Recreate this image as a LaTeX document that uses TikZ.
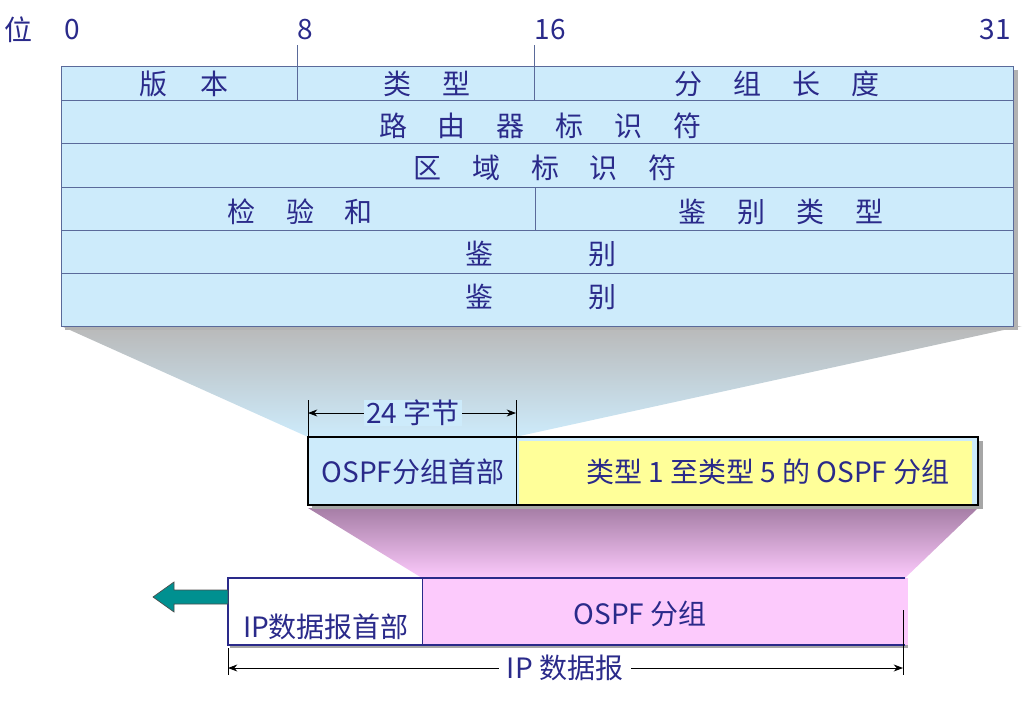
\documentclass[tikz,border=0pt]{standalone}
\usepackage{fontspec}
\setmainfont{Liberation Sans}
\newfontfamily\cjk{Noto Sans CJK SC}
\definecolor{navy}{HTML}{2A2A8A}
\definecolor{cellblue}{HTML}{CDEBFB}
\definecolor{edge}{HTML}{5A6A9A}
\definecolor{yel}{HTML}{FFFF99}
\definecolor{pnk}{HTML}{FCCAFC}
\definecolor{teal2}{HTML}{009090}
\usetikzlibrary{arrows.meta}
\begin{document}
\begin{tikzpicture}[x=0.75pt,y=-0.75pt,
 txt/.style={text=navy,font=\cjk\fontsize{21}{25}\selectfont,inner sep=0pt},
 cell/.style={fill=cellblue,draw=edge,line width=0.6pt},
 dim/.style={line width=0.6pt,{Stealth[length=7pt]}-{Stealth[length=7pt]}}]
\useasboundingbox (0,0) rectangle (1028,700);
% funnels
\shade[top color=gray!55,bottom color=cellblue] (61,326) -- (1022,326) -- (515,437) -- (308,437) -- cycle;
\shade[top color=violet!45!gray!70,bottom color=pnk] (308,508) -- (978,508) -- (905,578) -- (422,578) -- cycle;
% table shadow
\fill[gray!60] (65,70) rectangle (1018,330);
\foreach \a/\b in {66/100,100/143,143/187,187/230,230/273,273/326}
  \draw[cell] (61,\a) rectangle (1013,\b);
\draw[edge,line width=0.6pt] (297,45) -- (297,100) (534,45) -- (534,100) (535,187) -- (535,230);
\node[txt] (v) at (18,30) {位};
\node[txt] (n0) at (72,30) {0};
\node[txt] (n8) at (305,30) {8};
\node[txt] (n16) at (550,30) {16};
\node[txt] (n31) at (995,30) {31};
\node[txt] (f1) at (184,84) {版\hspace{1.2em}本};
\node[txt] (f2) at (427,84) {类\hspace{1.1em}型};
\node[txt] (f3) at (777,84) {分\hspace{1.1em}组\hspace{1.1em}长\hspace{1.1em}度};
\node[txt] (f4) at (540,126) {路\hspace{1.1em}由\hspace{1.1em}器\hspace{1.1em}标\hspace{1.1em}识\hspace{1.1em}符};
\node[txt] (f5) at (545,168) {区\hspace{1.1em}域\hspace{1.1em}标\hspace{1.1em}识\hspace{1.1em}符};
\node[txt] (f6) at (300,212) {检\hspace{1.1em}验\hspace{1.1em}和};
\node[txt] (f7) at (781,212) {鉴\hspace{1.1em}别\hspace{1.1em}类\hspace{1.1em}型};
\node[txt] (f8) at (541,254) {鉴\hspace{3.4em}别};
\node[txt] (f9) at (541,297) {鉴\hspace{3.4em}别};
% middle box
\fill[gray!70] (312,441) rectangle (983,509);
\fill[cellblue] (308,437) rectangle (978,505);
\fill[yel] (519,441) rectangle (972,505);
\draw[line width=1.3pt] (308,437) rectangle (978,505);
\draw[line width=0.5pt] (516,400) -- (516,505);
\draw[line width=0.5pt] (308,400) -- (308,437);
\coordinate (d1) at (308,413); \coordinate (d2) at (516,413);
\draw[dim] (d1) -- (d2);
\node[txt,fill=cellblue,inner xsep=2pt] (b24) at (413,413) {24 字节};
\node[txt] (hdr) at (413,472) {OSPF分组首部};
\node[txt] (body) at (768,472) {类型 1 至类型 5 的 OSPF 分组};
% bottom box
\fill[gray!70] (230,580) rectangle (908,648);
\fill[white] (228,578) rectangle (422,645);
\fill[pnk] (422,578) rectangle (908,645);
\draw[navy,line width=1.3pt] (905,578) -- (228,578) -- (228,645) -- (905,645);
\draw[navy,line width=0.7pt] (422,578) -- (422,645);
\draw[line width=0.4pt] (903,610) -- (903,645);
\node[txt] (iph) at (326,627) {IP数据报首部};
\node[txt] (op) at (640,614) {OSPF 分组};
\draw[fill=teal2,draw=black!70,line width=0.5pt] (228,590) -- (174,590) -- (174,582) -- (153,597) -- (174,612) -- (174,604) -- (228,604) -- cycle;
\draw[line width=0.4pt] (228,648) -- (228,675) (903,645) -- (903,675);
\coordinate (e1) at (228,668); \coordinate (e2) at (903,668);
\draw[dim] (e1) -- (e2);
\node[txt,fill=white,inner xsep=6pt] (ipd) at (565,668) {IP 数据报};
\end{tikzpicture}
\end{document}
